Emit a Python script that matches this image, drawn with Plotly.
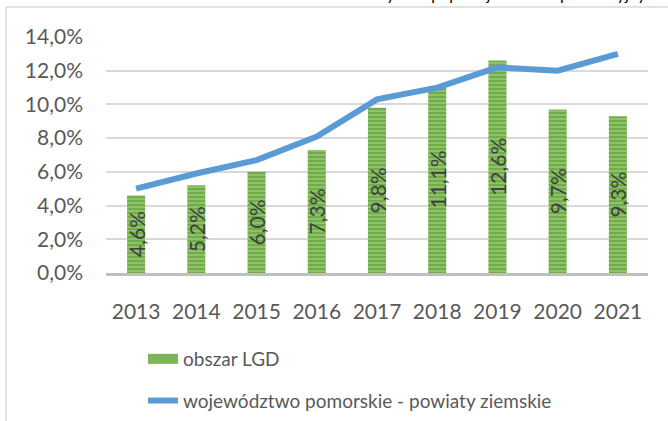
import plotly.graph_objects as go

# Data (percent)
years = ["2013", "2014", "2015", "2016", "2017", "2018", "2019", "2020", "2021"]
lgd = [4.6, 5.2, 6.0, 7.3, 9.8, 11.1, 12.6, 9.7, 9.3]
pomorskie = [5.0, 5.9, 6.7, 8.1, 10.3, 11.0, 12.2, 12.0, 13.0]

bar_name = "obszar LGD"
line_name = "województwo pomorskie - powiaty ziemskie"
title_text = "Udział bezrobotnych w populacji w wieku produkcyjnym"

FONT = "Lato"
GREEN = "#70ad47"
BLUE = "#5b9bd5"
GREY = "#595959"

# Plot area in pixels: x 106..648, y 37..273
W, H = 668, 421
L, R, T, B = 106, 20, 37, 148
pw, ph = W - L - R, H - T - B


def px_x(x):
	return (x - L) / pw


def px_y(y):
	return (H - B - y) / ph


fig = go.Figure()

# Bars with horizontal stripes
fig.add_trace(go.Bar(x=years, y=lgd, name=bar_name, width=0.3, showlegend=False,
                     marker=dict(color=GREEN, line_width=0,
                                 pattern=dict(shape="-", fgcolor="#c9e2b8", bgcolor=GREEN,
                                              size=4, solidity=0.35)),
                     texttemplate="%{y:.1f}%", textposition="inside",
                     insidetextanchor="middle", textangle=-90,
                     insidetextfont=dict(family=FONT, size=21, color="#404040")))

# Line
fig.add_trace(go.Scatter(x=years, y=pomorskie, name=line_name, mode="lines",
                         line=dict(color=BLUE, width=6), showlegend=True,
                         legendgroup="b"))

# Legend-only stand-in for the bar series (wide swatch like the original)
fig.add_trace(go.Scatter(x=[None], y=[None], name=bar_name, mode="lines",
                         line=dict(color="#7cb65a", width=10), legendgroup="a",
                         legendrank=1))

fig.update_layout(
	width=W, height=H,
	margin=dict(l=L, r=R, t=T, b=B, autoexpand=False),
	paper_bgcolor="white", plot_bgcolor="white",
	separators=", ",
	font=dict(family=FONT, size=21, color=GREY),
	uniformtext=dict(minsize=21, mode="show"),
	legend=dict(x=px_x(143), y=px_y(340), xanchor="left", yanchor="top",
	            orientation="v", font=dict(size=19, color=GREY),
	            tracegroupgap=14, bgcolor="rgba(0,0,0,0)"),
)

fig.update_xaxes(showgrid=False, showline=True, linecolor="#bfbfbf", linewidth=3,
                 ticks="", ticklabelstandoff=18, tickfont=dict(size=21, color=GREY),
                 automargin=False)
fig.update_yaxes(range=[0, 14], dtick=2, tickformat=".1f", ticksuffix="%",
                 showgrid=True, gridcolor="#d9d9d9", gridwidth=1.5,
                 zeroline=False, showline=False, ticks="", ticklabelstandoff=22,
                 tickfont=dict(size=21, color=GREY), automargin=False)

# Chart frame (extends past the right and bottom edges of the crop)
fig.add_shape(type="rect", xref="paper", yref="paper",
              x0=px_x(6), x1=px_x(720), y0=px_y(520), y1=px_y(7),
              line=dict(color="#d9d9d9", width=1.5), layer="below")

# Title, mostly cut off at the top of the picture (only descenders show)
fig.add_annotation(text=title_text, xref="paper", yref="paper",
                   x=px_x(463), y=px_y(5), xanchor="center", yanchor="bottom",
                   showarrow=False, font=dict(family=FONT, size=16, color="black"))

# page has a default 8px body margin; drop it so the chart sits at 0,0
fig.write_html("out.html", config={"displayModeBar": False},
               post_script="document.body.style.margin='0px';")
